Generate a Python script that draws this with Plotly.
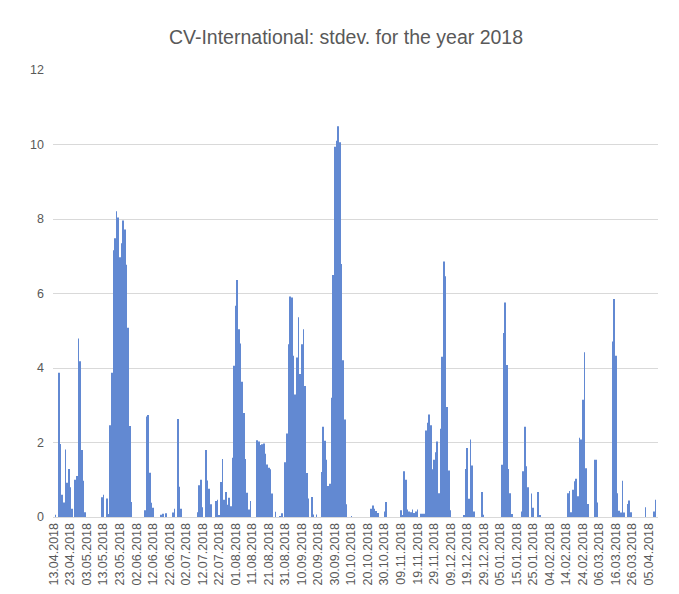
import plotly.graph_objects as go

title_text = "CV-International: stdev. for the year 2018"

tick_labels = [
    "13.04.2018", "23.04.2018", "03.05.2018", "13.05.2018", "23.05.2018",
    "02.06.2018", "12.06.2018", "22.06.2018", "02.07.2018", "12.07.2018",
    "22.07.2018", "01.08.2018", "11.08.2018", "21.08.2018", "31.08.2018",
    "10.09.2018", "20.09.2018", "30.09.2018", "10.10.2018", "20.10.2018",
    "30.10.2018", "09.11.2018", "19.11.2018", "29.11.2018", "09.12.2018",
    "19.12.2018", "29.12.2018", "05.01.2018", "15.01.2018", "25.01.2018",
    "04.02.2018", "14.02.2018", "24.02.2018", "06.03.2018", "16.03.2018",
    "26.03.2018", "05.04.2018",
]

# daily stdev values (one per day, 366 days)
stdev_values = [
    0, 0.06, 0, 3.87, 1.96, 0.6, 0.39, 1.81, 0.92, 1.29,
    0.8, 0.22, 0, 1.0, 1.1, 4.79, 4.18, 1.8, 0.97, 0.13,
    0, 0, 0, 0, 0, 0, 0, 0, 0, 0.53,
    0.6, 0, 0.5, 0.08, 2.46, 3.87, 7.16, 7.48, 8.21, 8.04,
    6.97, 7.35, 7.96, 7.72, 6.77, 5.08, 2.44, 0.4, 0, 0,
    0, 0, 0, 0, 0, 0.18, 2.7, 2.74, 1.19, 0.38,
    0.25, 0, 0, 0, 0, 0.06, 0.09, 0, 0.1, 0,
    0, 0, 0.12, 0.22, 0, 2.63, 0.81, 0.22, 0, 0,
    0, 0, 0, 0, 0, 0, 0, 0.13, 0.85, 1.0,
    0.26, 0, 1.8, 0.98, 0.76, 0.34, 0, 0, 0.43, 0.46,
    0.04, 0.94, 1.56, 0.46, 0.67, 0.33, 0.52, 0.29, 1.59, 4.06,
    5.67, 6.36, 5.04, 4.66, 3.63, 2.79, 1.56, 0.65, 0.2, 0.43,
    0, 0, 0, 2.06, 2.03, 1.93, 1.95, 1.97, 1.70, 1.41,
    1.32, 1.28, 0.63, 0, 0.14, 0, 0, 0.02, 0.1, 0,
    1.47, 2.24, 4.64, 5.92, 5.89, 4.33, 3.29, 4.28, 5.36, 3.84,
    4.64, 5.04, 3.52, 1.18, 0.5, 0, 0.54, 0.07, 0, 0.07,
    0, 0, 1.21, 2.42, 2.05, 1.54, 0.83, 0.89, 3.2, 6.5,
    9.94, 10.1, 10.49, 10.06, 6.79, 4.21, 2.62, 0.34, 0, 0,
    0.01, 0, 0, 0, 0, 0, 0, 0, 0, 0,
    0, 0, 0.22, 0.31, 0.22, 0.16, 0.11, 0, 0, 0,
    0.15, 0.4, 0, 0, 0, 0, 0, 0, 0, 0,
    0.18, 0.04, 1.23, 1.0, 0.2, 0.15, 0.13, 0.2, 0.11, 0.15,
    0.2, 0, 0.09, 0.09, 0.09, 2.32, 2.53, 2.75, 2.46, 1.28,
    1.54, 1.74, 2.03, 0.64, 2.37, 4.30, 6.86, 6.46, 2.95, 1.25,
    0.18, 0, 0, 0, 0, 0, 0, 0, 0.03, 1.29,
    1.85, 0.49, 2.08, 1.38, 0.15, 0, 0, 0, 0, 0.67,
    0.06, 0, 0, 0, 0, 0, 0, 0, 0, 0,
    0, 1.4, 4.94, 5.76, 4.08, 1.29, 0.64, 0.08, 0, 0,
    0, 0, 0, 0.15, 1.23, 2.42, 1.36, 0.8, 0, 0.63,
    0.25, 0, 0, 0.67, 0.04, 0, 0, 0, 0, 0,
    0, 0, 0, 0, 0, 0, 0, 0, 0, 0,
    0, 0.64, 0.7, 0.13, 0.73, 0.96, 1.03, 0.56, 2.13, 2.08,
    3.15, 4.42, 1.31, 0.35, 0, 0, 0, 1.54, 1.54, 0.39,
    0, 0, 0, 0, 0, 0, 0, 0, 4.71, 5.85,
    4.33, 0.64, 0.17, 0.12, 0.97, 0.12, 0, 0.35, 0.44, 0.13,
    0, 0, 0, 0, 0, 0, 0, 0, 0.26, 0,
    0, 0, 0, 0.15, 0.46, 0,
]

day_index = list(range(len(stdev_values)))
tick_positions = list(range(0, 10 * len(tick_labels), 10))

# the page adds an 8px body margin; size the figure so the plot lands where the reference has it
OFF = 8
W, H = 679 - OFF, 594 - OFF
L = 53 - OFF
T = 70 - OFF
R = W - (658 - OFF)
B = H - (517.5 - OFF)

fig = go.Figure(
    go.Bar(
        x=day_index,
        y=stdev_values,
        marker=dict(color="#6289D2", line=dict(width=0)),
    )
)

fig.update_layout(
    width=W,
    height=H,
    margin=dict(l=L, r=R, t=T, b=B, autoexpand=False),
    paper_bgcolor="white",
    plot_bgcolor="white",
    showlegend=False,
    bargap=0.6,
    font=dict(family="Liberation Sans, Arial, sans-serif", color="#595959"),
    title=dict(
        text=title_text,
        x=(346 - OFF) / W,
        xanchor="center",
        xref="container",
        yref="container",
        y=1 - (37 - OFF) / H,
        yanchor="middle",
        font=dict(size=19.5, color="#595959", family="Liberation Sans, Arial, sans-serif"),
    ),
    xaxis=dict(
        range=[-0.5, len(stdev_values) - 0.5],
        tickmode="array",
        tickvals=tick_positions,
        ticktext=tick_labels,
        tickangle=-90,
        tickfont=dict(size=12.5, color="#595959"),
        showgrid=False,
        showline=True,
        linecolor="#D9D9D9",
        linewidth=1,
        ticks="",
        zeroline=False,
        automargin=False,
    ),
    yaxis=dict(
        range=[0, 12],
        dtick=2,
        tick0=0,
        showgrid=True,
        gridcolor="#D9D9D9",
        gridwidth=1,
        showline=False,
        zeroline=False,
        ticks="",
        tickfont=dict(size=12.5, color="#595959"),
        ticklabelstandoff=8,
        automargin=False,
    ),
)

fig.write_html("out.html")
